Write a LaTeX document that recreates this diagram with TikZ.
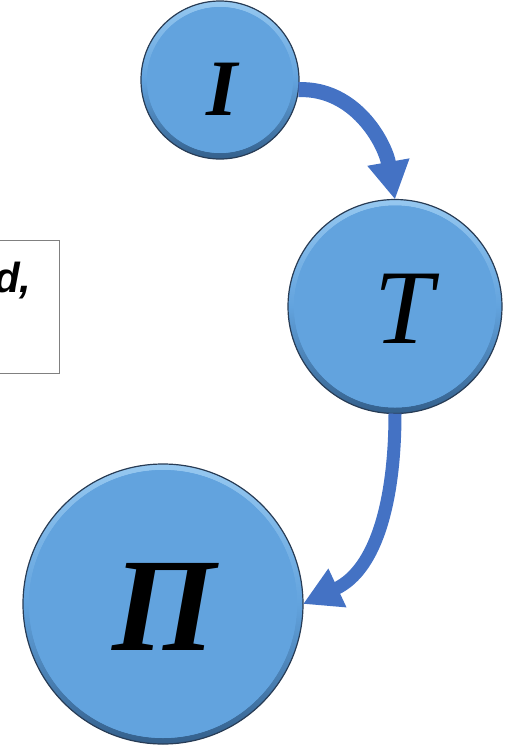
\documentclass[tikz,border=0pt]{standalone}
\usepackage{fontspec}
\usetikzlibrary{arrows.meta,calc}
\newfontfamily\tnr{Liberation Serif}
\newfontfamily\arialf{Liberation Sans}
\definecolor{cfill}{RGB}{98,163,222}
\definecolor{chigh}{RGB}{150,200,240}
\definecolor{cdark}{RGB}{52,96,140}
\definecolor{crim}{RGB}{40,60,85}
\definecolor{carrow}{RGB}{68,114,196}
\definecolor{cbox}{RGB}{128,128,128}
\begin{document}
\begin{tikzpicture}[x=1pt,y=1pt,
  bubble/.style={circle, minimum size=2*#1, inner sep=0pt, outer sep=0pt,
    fill=cfill, draw=crim, line width=1.2pt,
    path picture={\shade[even odd rule, top color=chigh, bottom color=cdark, middle color=cfill]
      (path picture bounding box.center) circle[radius=#1] circle[radius=#1-6pt];
      \fill[cfill] (path picture bounding box.center) circle[radius=#1-6pt];}},
  letter/.style={inner sep=0pt, anchor=base, font=\tnr},
  flow/.style={draw=carrow, line width=#1, -{Triangle[length=38pt,width=40pt]}},
  textbox/.style={draw=cbox, line width=1pt, inner sep=0pt}
]
\useasboundingbox (0,0) rectangle (508,-745);
\node[bubble=79pt] (I) at (220,-80) {};
\node[bubble=107pt] (T) at (395,-306.5) {};
\node[bubble=140pt] (P) at (163,-604) {};
\node[letter, font=\tnr\bfseries\itshape\fontsize{80}{80}\selectfont] (lI) at (222,-115) {I};
\node[letter, font=\tnr\itshape\fontsize{106}{106}\selectfont] (lT) at (404,-343) {T};
\node[letter, font=\tnr\bfseries\itshape\fontsize{133}{133}\selectfont] (lP) at (164,-650) {Π};
\node[textbox, minimum width=70pt, minimum height=133pt, anchor=north east] (box) at (60,-240) {};
\node[inner sep=0pt, anchor=base west, font=\arialf\bfseries\itshape\fontsize{42}{42}\selectfont] (txt) at (-6,-292) {d,};
\draw[flow=15pt] (I.-7) to[out=2, in=100] (T.north);
\draw[flow=13pt] (T.south) to[out=-90, in=25] (P.east);
\end{tikzpicture}
\end{document}
